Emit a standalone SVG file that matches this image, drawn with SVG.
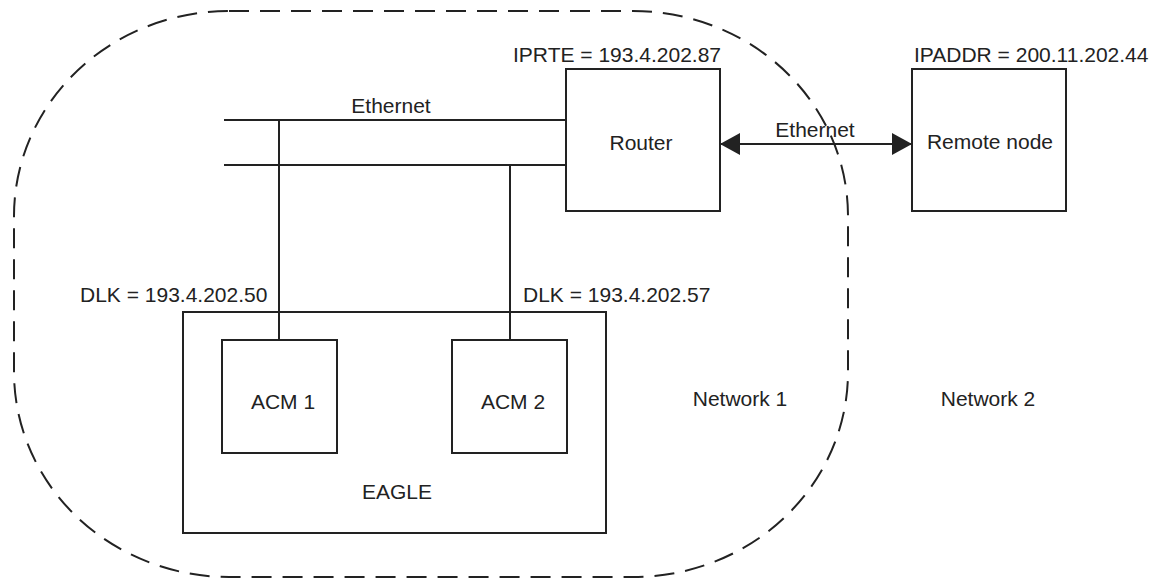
<svg xmlns="http://www.w3.org/2000/svg" width="1170" height="581" viewBox="0 0 1170 581">
<style>
.box{fill:none;stroke:#222;stroke-width:2}
.ln{fill:none;stroke:#222;stroke-width:2}
.dash{fill:none;stroke:#222;stroke-width:2;stroke-dasharray:20 11}
text{font-family:"Liberation Sans",Arial,sans-serif;font-size:21px;fill:#222}
.c{text-anchor:middle}
</style>
<defs>
<marker id="ah" viewBox="0 0 20 22" refX="20" refY="11" markerWidth="20" markerHeight="22" markerUnits="userSpaceOnUse" orient="auto-start-reverse">
<path d="M0,0 L20,11 L0,22 Z" fill="#222"/>
</marker>
</defs>
<g id="network1-boundary">
<rect class="dash" x="14" y="11" width="834" height="566" rx="215" ry="205"/>
</g>
<g id="connectors">
<line class="ln" x1="224" y1="120" x2="566" y2="120"/>
<line class="ln" x1="224" y1="165" x2="566" y2="165"/>
<line class="ln" x1="279" y1="120" x2="279" y2="340"/>
<line class="ln" x1="510" y1="165" x2="510" y2="340"/>
<line class="ln" x1="720" y1="144" x2="912" y2="144" marker-start="url(#ah)" marker-end="url(#ah)"/>
<text class="c" x="391" y="113">Ethernet</text>
<text class="c" x="815" y="137">Ethernet</text>
</g>
<g id="router">
<rect class="box" x="566" y="69" width="154" height="142"/>
<text class="c" x="641" y="150">Router</text>
<text x="513" y="62">IPRTE = 193.4.202.87</text>
</g>
<g id="remote-node">
<rect class="box" x="912" y="69" width="154" height="142"/>
<text class="c" x="990" y="149">Remote node</text>
<text x="914" y="62">IPADDR = 200.11.202.44</text>
</g>
<g id="eagle">
<rect class="box" x="183" y="312" width="423" height="221"/>
<text class="c" x="397" y="499">EAGLE</text>
</g>
<g id="acm1">
<rect class="box" x="222" y="340" width="115" height="113"/>
<text class="c" x="283" y="409">ACM 1</text>
<text x="80" y="302">DLK = 193.4.202.50</text>
</g>
<g id="acm2">
<rect class="box" x="452" y="340" width="115" height="113"/>
<text class="c" x="513" y="409">ACM 2</text>
<text x="523" y="302">DLK = 193.4.202.57</text>
</g>
<g id="labels">
<text class="c" x="740" y="406">Network 1</text>
<text class="c" x="988" y="406">Network 2</text>
</g>
</svg>
